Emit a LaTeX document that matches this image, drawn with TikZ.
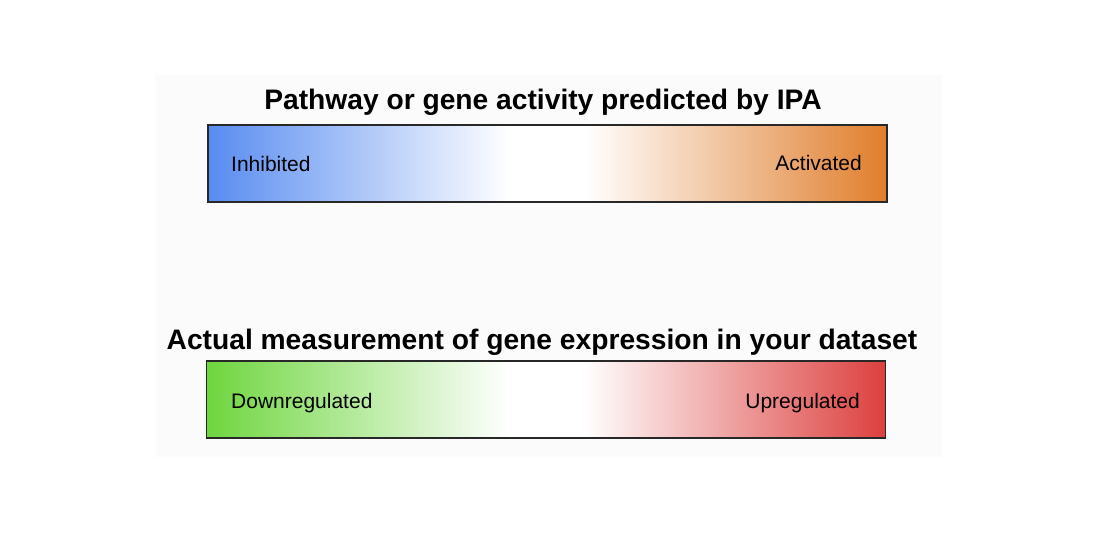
\documentclass[tikz,border=0pt]{standalone}
\usepackage{fontspec}
\setmainfont{Liberation Sans}
\definecolor{ipablue}{RGB}{88,140,240}
\definecolor{ipaorange}{RGB}{224,126,44}
\definecolor{expgreen}{RGB}{110,214,62}
\definecolor{expred}{RGB}{220,64,62}
\definecolor{panelbg}{RGB}{251,251,251}
\definecolor{barline}{RGB}{40,40,40}
\pgfdeclarehorizontalshading{ipashade}{100bp}{color(0bp)=(ipablue); color(25bp)=(ipablue); color(47.25bp)=(white); color(52.75bp)=(white); color(75bp)=(ipaorange); color(100bp)=(ipaorange)}
\pgfdeclarehorizontalshading{expshade}{100bp}{color(0bp)=(expgreen); color(25bp)=(expgreen); color(47.25bp)=(white); color(52.75bp)=(white); color(75bp)=(expred); color(100bp)=(expred)}
\tikzset{
  bar/.style={draw=barline, line width=1.2pt, minimum width=679pt, minimum height=77pt, inner sep=0pt},
  title/.style={font=\fontsize{28.2}{31}\selectfont\bfseries, inner sep=0pt},
  lab/.style={font=\fontsize{21}{24}\selectfont, inner sep=0pt},
}
\begin{document}
\begin{tikzpicture}[x=1pt,y=-1pt]
\useasboundingbox (0,0) rectangle (1110,545);
\fill[white] (0,0) rectangle (1110,545);
\fill[panelbg] (155,75) rectangle (942,457);
\node[title, anchor=base] (t1) at (543,110) {Pathway or gene activity predicted by IPA};
\node[bar, shading=ipashade] (bar1) at (547.5,163.5) {};
\node[lab, anchor=base west] (inh) at (231,172) {Inhibited};
\node[lab, anchor=base east] (act) at (862,171) {Activated};
\node[title, anchor=base] (t2) at (542,349) {Actual measurement of gene expression in your dataset};
\node[bar, shading=expshade] (bar2) at (546,399.5) {};
\node[lab, anchor=base west] (down) at (231,408) {Downregulated};
\node[lab, anchor=base east] (up) at (860,408) {Upregulated};
\end{tikzpicture}
\end{document}
